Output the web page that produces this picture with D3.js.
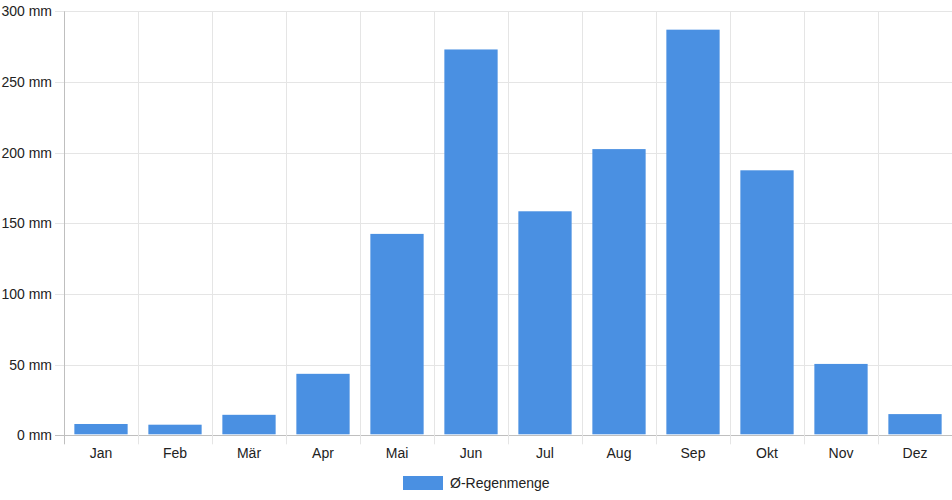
<!DOCTYPE html>
<html><head><meta charset="utf-8">
<script src="https://cdn.jsdelivr.net/npm/d3@7"></script>
<style>body{margin:0;background:#fff}svg{display:block}text{font-family:"Liberation Sans",Arial,sans-serif}</style>
</head><body>
<svg id="c" width="952" height="500"></svg>
<script>
const months = ["Jan","Feb","Mär","Apr","Mai","Jun","Jul","Aug","Sep","Okt","Nov","Dez"];
const rain = [8, 7.5, 14.5, 43.5, 142.5, 273, 158.5, 202.5, 287, 187.5, 50.5, 15];
const yTicks = [0, 50, 100, 150, 200, 250, 300];
const seriesName = "Ø-Regenmenge";

const svg = d3.select("#c");
const L = 64, R = 952, T = 11.3, B = 435.3;
const x = d3.scaleBand().domain(months).range([L, R]).paddingInner(0).paddingOuter(0);
const y = d3.scaleLinear().domain([0, 300]).range([B, T]);
const grid = "#e5e5e5";

// horizontal gridlines + ticks
svg.append("g").selectAll("line").data(yTicks).join("line")
  .attr("x1", L - 9).attr("x2", R)
  .attr("y1", d => Math.round(y(d)) + 0.5).attr("y2", d => Math.round(y(d)) + 0.5)
  .attr("stroke", d => d === 0 ? "#bfbfbf" : grid).attr("stroke-width", 1);

// vertical gridlines
const xs = months.map(m => x(m)).concat([R]);
svg.append("g").selectAll("line").data(xs).join("line")
  .attr("x1", d => Math.round(d) + 0.5).attr("x2", d => Math.round(d) + 0.5)
  .attr("y1", T).attr("y2", B + 9)
  .attr("stroke", (d, i) => i === 0 ? "#bfbfbf" : grid);

// y labels
svg.append("g").selectAll("text").data(yTicks).join("text")
  .attr("x", 52).attr("y", d => y(d)).attr("dy", "0.35em")
  .attr("text-anchor", "end").attr("font-size", 14).attr("fill", "#222")
  .text(d => d + " mm");

// x labels
svg.append("g").selectAll("text").data(months).join("text")
  .attr("x", d => x(d) + x.bandwidth() / 2).attr("y", 453).attr("dy", "0.35em")
  .attr("text-anchor", "middle").attr("font-size", 14).attr("fill", "#222")
  .text(d => d);

// bars
const bw = x.bandwidth() * 0.72;
svg.append("g").selectAll("rect").data(rain).join("rect")
  .attr("x", (d, i) => x(months[i]) + (x.bandwidth() - bw) / 2)
  .attr("width", bw)
  .attr("y", d => y(d))
  .attr("height", d => y(0) - y(d) - 1)
  .attr("fill", "#4a90e2");

// legend
const lg = svg.append("g");
lg.append("rect").attr("x", 403).attr("y", 476).attr("width", 40).attr("height", 14).attr("fill", "#4a90e2");
lg.append("text").attr("x", 450).attr("y", 483).attr("dy", "0.35em")
  .attr("font-size", 14).attr("fill", "#222").text(seriesName);
</script>
</body></html>
